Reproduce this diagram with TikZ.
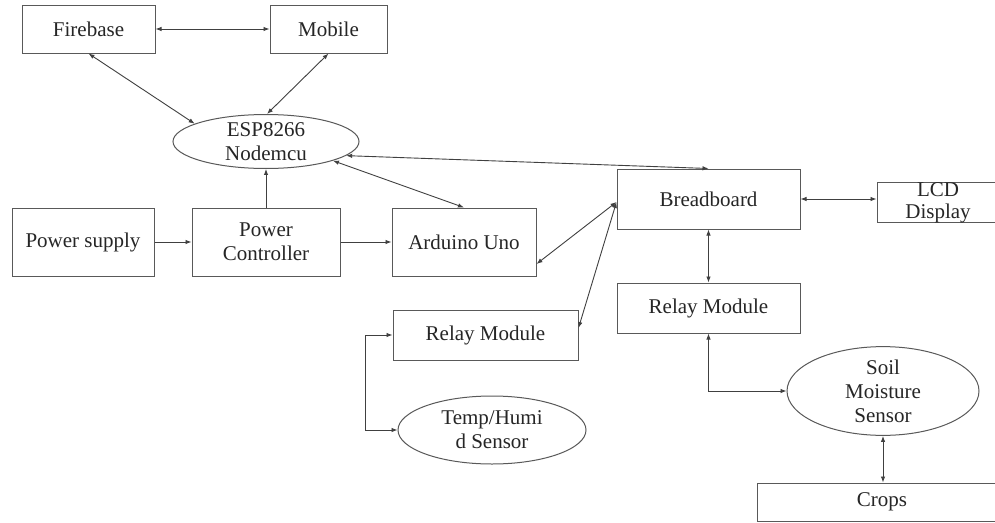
\documentclass[tikz,border=0pt]{standalone}
\usepackage{fontspec}
\setmainfont{Liberation Serif}
\usetikzlibrary{shapes.geometric,arrows.meta,calc}
\begin{document}
\begin{tikzpicture}[x=1pt,y=-1pt,
  every node/.style={font=\fontsize{21}{24}\selectfont, text=black!85, align=center, inner sep=0pt},
  box/.style={draw=black!65, line width=1pt, rectangle},
  oval/.style={draw=black!65, line width=1pt, ellipse},
  conn/.style={draw=black!75, line width=0.9pt},
  tip/.style={-{Latex[length=6pt,width=4.5pt]}},
  dtip/.style={{Latex[length=6pt,width=4.5pt]}-{Latex[length=6pt,width=4.5pt]}}]
\clip (0,0) rectangle (995,522);
\fill[white] (0,0) rectangle (995,522);
\node[box, minimum width=133pt, minimum height=48pt] (fire) at (88.5,29) {Firebase};
\node[box, minimum width=117pt, minimum height=48pt] (mob) at (328.5,29) {Mobile};
\node[oval, minimum width=186pt, minimum height=47pt] (esp) at (266,141.5) {ESP8266\\Nodemcu};
\node[box, minimum width=142pt, minimum height=68pt] (ps) at (83,242) {Power supply};
\node[box, minimum width=148pt, minimum height=68pt] (pc) at (266,242) {Power\\Controller};
\node[box, minimum width=144pt, minimum height=68pt] (ard) at (464,242) {Arduino Uno};
\node[box, minimum width=183pt, minimum height=60pt] (bb) at (708.5,199) {Breadboard};
\node[box, minimum width=122pt, minimum height=39pt, font=\fontsize{21}{22}\selectfont] (lcd) at (938,202.5) {LCD\\Display};
\node[box, minimum width=185pt, minimum height=50pt] (rl) at (485.5,335) {Relay Module};
\node[box, minimum width=183pt, minimum height=50pt] (rr) at (708.5,308) {Relay Module};
\node[oval, minimum width=188pt, minimum height=68pt] (temp) at (492,430) {Temp/Humi\\d Sensor};
\node[oval, minimum width=192pt, minimum height=88pt] (soil) at (883,391) {Soil\\Moisture\\Sensor};
\node[box, minimum width=250pt, minimum height=38pt] (crops) at (882,502) {Crops};

\draw[conn, dtip] (fire.east) -- (mob.west);
\draw[conn, dtip] (fire.south) -- (esp.166);
\draw[conn, dtip] (mob.south) -- (esp.88);
\draw[conn, tip] (pc.north) -- (esp.south);
\draw[conn, tip] (ps.east) -- (pc.west);
\draw[conn, tip] (pc.east) -- (ard.west);
\draw[conn, dtip] (esp.-16) -- (ard.north);
\draw[conn, dtip] (esp.-10) -- (bb.north);
\draw[conn, dtip] ($(ard.east)+(0,22)$) -- ($(bb.west)+(0,3)$);
\draw[conn, dtip] ($(rl.east)+(0,-7)$) -- ($(bb.west)+(0,3)$);
\draw[conn, dtip] (bb.east) -- (bb.east -| lcd.west);
\draw[conn, dtip] (bb.south) -- (bb.south |- rr.north);
\draw[conn, dtip] (rr.south) |- (soil.west);
\draw[conn, dtip] (rl.west) -- ++(-27,0) |- (temp.west);
\draw[conn, dtip] (soil.south) -- (soil.south |- crops.north);
\end{tikzpicture}
\end{document}
